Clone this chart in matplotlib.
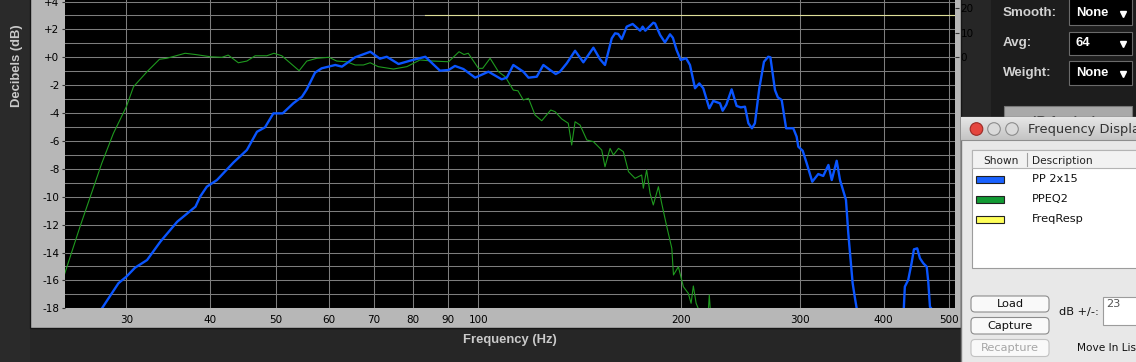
import matplotlib
matplotlib.use('Agg')
import numpy as np
import matplotlib.pyplot as plt
import matplotlib.ticker as mticker
from matplotlib.patches import Rectangle, FancyBboxPatch, Circle
from matplotlib.colors import LinearSegmentedColormap

# ---------------- data ----------------
pp_freq = [27.6, 29.2, 30.0, 30.9, 32.2, 33.7, 35.7, 38.0, 38.6, 39.5, 40.9, 43.3, 45.3,
           46.9, 48.2, 49.6, 51.2, 53.1, 54.7, 55.6, 57.2, 58.5, 61.3, 62.7, 65.6, 69.1,
           71.4, 73.1, 76.1, 79.2, 83.4, 87.7, 90.3, 92.3, 95.0, 98.9, 103.5, 108.3, 110.2,
           112.7, 116.6, 118.7, 122.1, 124.9, 127.8, 130.3, 132.2, 135.3, 139.2, 143.2,
           148.2, 151.6, 154.2, 157.8, 159.6, 161.3, 163.3, 166.1, 169.5, 173.9, 175.4,
           177.0, 181.9, 183.0, 186.2, 189.3, 192.6, 194.5, 197.0, 199.8, 203.5, 206.2,
           209.8, 212.9, 215.8, 220.3, 223.3, 228.5, 230.6, 233.5, 237.8, 241.9, 245.4,
           248.9, 251.8, 254.9, 257.5, 261.4, 265.6, 269.5, 271.5, 275.8, 278.5, 282.2,
           286.5, 293.6, 297.0, 298.7, 303.2, 307.4, 313.3, 319.8, 325.3, 331.1, 334.9,
           340.6, 344.5, 351.6, 354.4, 359.7, 362.6, 364.7, 370.0, 420.0, 428.5, 430.0,
           435.0, 440.0, 443.6, 448.6, 452.8, 458.0, 463.4, 465.9, 468.6, 470.6, 475.0]
pp_db = [-18.0, -16.2, -15.73, -15.09, -14.54, -13.22, -11.79, -10.71, -10.0, -9.28, -8.8,
         -7.53, -6.65, -5.34, -5.02, -4.02, -4.02, -3.3, -2.83, -2.3, -1.1, -0.79, -0.55,
         -0.67, 0.0, 0.4, -0.1, 0.04, -0.48, -0.24, 0.04, -0.96, -0.91, -0.62, -0.84, -1.46,
         -1.03, -1.58, -1.46, -0.55, -1.03, -1.46, -1.39, -0.55, -0.91, -1.2, -1.03, -0.43,
         0.47, -0.36, 0.69, -0.14, -0.55, 1.36, 1.72, 1.68, 1.31, 2.2, 2.39, 1.91, 2.2,
         1.91, 2.48, 2.43, 1.6, 1.07, 1.65, 1.4, 0.52, -0.19, -0.07, -0.55, -2.22, -1.87,
         -2.22, -3.66, -3.13, -3.3, -3.83, -3.4, -2.3, -3.49, -3.59, -3.54, -4.73, -5.09,
         -4.73, -2.22, -0.32, 0.04, 0.0, -2.35, -2.87, -3.06, -5.09, -5.09, -5.69, -6.41,
         -6.7, -7.6, -8.92, -8.37, -8.51, -7.72, -8.8, -7.42, -8.8, -10.23, -12.62, -16.2,
         -17.28, -18.0, -22.0, -22.0, -18.0, -16.45, -15.97, -14.77, -13.77, -13.7, -14.41,
         -14.77, -15.02, -16.1, -17.9, -18.0, -22.0]

eq_freq = [24.0, 25.6, 27.58, 28.7, 30.0, 30.74, 32.2, 33.6, 34.45, 36.68, 38.0, 40.0, 41.6,
           42.5, 44.0, 45.3, 46.6, 48.5, 49.7, 51.05, 54.17, 55.6, 57.55, 60.0, 61.6, 63.76,
           65.6, 67.5, 69.06, 71.0, 74.8, 78.3, 81.9, 85.7, 90.3, 93.6, 95.2, 96.6, 100.0,
           101.5, 104.1, 107.1, 109.6, 112.7, 114.5, 116.6, 118.7, 121.4, 124.2, 128.1,
           130.0, 133.0, 136.0, 137.6, 139.2, 141.6, 144.9, 148.2, 152.5, 154.2, 156.9,
           158.7, 161.5, 164.2, 167.1, 170.9, 174.8, 175.8, 177.8, 179.9, 181.9, 185.1,
           187.2, 190.5, 193.8, 194.9, 198.2, 201.6, 205.0, 207.0, 208.6, 210.6, 212.1,
           216.0, 219.5, 220.3, 221.2, 225.0]
eq_db = [-16.3, -12.15, -7.6, -5.45, -3.54, -2.11, -1.03, -0.14, -0.07, 0.29, 0.2, 0.04, 0.0,
         0.16, -0.39, -0.27, 0.11, 0.11, 0.29, 0.11, -0.96, -0.27, -0.07, 0.0, -0.27, -0.32,
         -0.55, -0.55, -0.39, -0.67, -0.84, -0.67, -0.19, -0.27, -0.32, 0.4, 0.2, 0.29,
         -0.79, -0.79, -0.07, -1.03, -1.39, -2.35, -2.4, -3.06, -2.94, -4.14, -4.55, -3.78,
         -3.9, -4.42, -4.73, -6.29, -4.62, -4.86, -5.93, -6.05, -6.65, -7.85, -6.53, -7.01,
         -6.53, -6.77, -8.2, -8.68, -8.44, -9.39, -8.08, -9.75, -10.59, -9.28, -10.47,
         -12.15, -13.7, -15.61, -15.02, -16.45, -16.92, -17.64, -16.4, -17.64, -18.0,
         -19.5, -18.3, -17.05, -18.3, -20.0]

fr_freq = [83.3, 530.0]
fr_db = [3.03, 3.03]

x_ticks = [30, 40, 50, 60, 70, 80, 90, 100, 200, 300, 400, 500]
x_labels = ['30', '40', '50', '60', '70', '80', '90', '100', '200', '300', '400', '500']
y_ticks = [4, 2, 0, -2, -4, -6, -8, -10, -12, -14, -16, -18]
y_labels = ['+4', '+2', '+0', '-2', '-4', '-6', '-8', '-10', '-12', '-14', '-16', '-18']
r_ticks = [0, 10, 20]
r_labels = ['0', '10', '20']

legend_names = ['PP 2x15', 'PPEQ2', 'FreqResp']
legend_colors = ['#1a62ff', '#129a33', '#ffff5a']

# ---------------- figure ----------------
W, H = 1136, 362
fig = plt.figure(figsize=(W / 100, H / 100), dpi=100, facecolor='#262626')

bg = fig.add_axes([0, 0, 1, 1], zorder=0)
bg.set_xlim(0, W); bg.set_ylim(H, 0); bg.axis('off')
bg.add_patch(Rectangle((0, 0), 30, H, facecolor='#2a2a2a', edgecolor='none'))
bg.add_patch(Rectangle((30, -2), 961 - 30, 330, facecolor='#b7b7b7', edgecolor='#161616', lw=1))
bg.add_patch(Rectangle((991, -2), W - 991, H + 4, facecolor='#1d1d1d', edgecolor='none'))

# main plot
L, R, T, B = 65, 955, 0, 308.3
ax = fig.add_axes([L / W, (H - B) / H, (R - L) / W, (B - T) / H], zorder=1)
ax.set_facecolor('black')
ax.set_xscale('log')
ax.set_xlim(24.32, 510.5)
ax.set_ylim(-18, 4.11)
for s in ax.spines.values():
    s.set_visible(False)

ax.xaxis.set_major_locator(mticker.FixedLocator(x_ticks))
ax.xaxis.set_major_formatter(mticker.FixedFormatter(x_labels))
ax.xaxis.set_minor_locator(mticker.NullLocator())
ax.set_yticks(y_ticks)
ax.set_yticklabels(y_labels)
ax.set_yticks(np.arange(-17, 4, 2), minor=True)
ax.tick_params(axis='x', length=0, pad=5, labelsize=7.5, labelcolor='black')
ax.tick_params(axis='y', which='major', length=2, width=0.8, color='#333333', pad=2,
               labelsize=7.5, labelcolor='black')
ax.tick_params(axis='y', which='minor', length=0)
ax.grid(True, which='major', axis='both', color='#7d7d7d', lw=0.75)
ax.grid(True, which='minor', axis='y', color='#7d7d7d', lw=0.75)
ax.set_axisbelow(True)

ax.plot(fr_freq, fr_db, color='#dede98', lw=0.8)
ax.plot(eq_freq, eq_db, color='#1f9a1f', lw=0.8)
ax.plot(pp_freq, pp_db, color='#0a55ff', lw=1.7, solid_joinstyle='round')

ax2 = ax.twinx()
ax2.set_ylim(-102.4, 23.4)
ax2.set_yticks(r_ticks)
ax2.set_yticklabels(r_labels)
ax2.tick_params(axis='y', length=3, width=0.8, color='#333333', pad=1,
                labelsize=7.5, labelcolor='black')
for s in ax2.spines.values():
    s.set_visible(False)

# ---------------- overlay (labels & panels) ----------------
fg = fig.add_axes([0, 0, 1, 1], zorder=5)
fg.set_facecolor('none')
fg.axis('off')

lab = dict(family='Liberation Sans', fontweight='bold', color='#cacaca', fontsize=9.4)
fg.text(17, 66, 'Decibels (dB)', rotation=90, ha='center', va='center', **lab)
fg.text(510, 340.5, 'Frequency (Hz)', ha='center', va='center', **lab)

# right control panel
for yc, name, val, (y0, y1) in [(13.3, 'Smooth:', 'None', (-2, 25)),
                                (43.3, 'Avg:', '64', (32, 55)),
                                (72.7, 'Weight:', 'None', (61, 85))]:
    fg.text(1003, yc, name, ha='left', va='center', family='Liberation Sans',
            fontweight='bold', fontsize=9.6, color='#d2d2d2')
    fg.add_patch(Rectangle((1069, y0), 63, y1 - y0, facecolor='black', edgecolor='#6a6a6a', lw=0.8))
    fg.text(1076, yc, val, ha='left', va='center', family='Liberation Sans',
            fontweight='bold', fontsize=9.4, color='white')
    fg.plot([1123], [yc + 1], marker='v', ms=4.5, color='white', mec='white')

fg.add_patch(Rectangle((1004, 106), 128, 30, facecolor='#a9a9a9', edgecolor='#777777', lw=0.8))
ir = fg.text(1068, 122, 'IR Analysis', ha='center', va='center', family='Liberation Sans',
             fontweight='bold', fontsize=9.4, color='#444444')
ir.set_clip_path(Rectangle((1004, 100), 128, 17, transform=fg.transData))

# dialog window
fg.add_patch(Rectangle((960.5, 117), 200, 260, facecolor='#e8e8e8', edgecolor='#7a7a7a', lw=1, zorder=3))
tb = LinearSegmentedColormap.from_list('tb', ['#e6e6e6', '#c4c4c4'])
fg.imshow(np.linspace(0, 1, 24)[:, None], extent=[961, 1137, 140, 117.5], origin='upper',
          cmap=tb, aspect='auto', zorder=3.5)
fg.plot([961, 1137], [140, 140], color='#8e8e8e', lw=0.8, zorder=3.6)
fg.add_patch(Circle((976.5, 129), 6.3, facecolor='#e5463f', edgecolor='#9a2a25', lw=0.8, zorder=4))
for cx in (994, 1012):
    fg.add_patch(Circle((cx, 129), 6.3, facecolor='#dadada', edgecolor='#8c8c8c', lw=0.8, zorder=4))
fg.text(1028, 129, 'Frequency Display', ha='left', va='center', family='DejaVu Sans',
        fontsize=9.4, color='#333333', zorder=4)

# table
fg.add_patch(Rectangle((972, 150), 200, 118, facecolor='white', edgecolor='#9c9c9c', lw=0.8, zorder=4))
fg.add_patch(Rectangle((972, 150), 200, 18, facecolor='#f2f2f2', edgecolor='#b4b4b4', lw=0.8, zorder=4.1))
fg.plot([1027, 1027], [153, 166], color='#a0a0a0', lw=0.8, zorder=4.2)
fg.text(983, 160.5, 'Shown', ha='left', va='center', family='DejaVu Sans', fontsize=7.6,
        color='#222222', zorder=4.3)
fg.text(1032, 160.5, 'Description', ha='left', va='center', family='DejaVu Sans', fontsize=7.6,
        color='#222222', zorder=4.3)
for i, (nm, col) in enumerate(zip(legend_names, legend_colors)):
    yc = 179.3 + 20 * i
    fg.add_patch(Rectangle((976, yc - 3.5), 28, 7, facecolor=col, edgecolor='#222222', lw=0.8, zorder=4.3))
    fg.text(1032, yc, nm, ha='left', va='center', family='DejaVu Sans', fontsize=8.2,
            color='#111111', zorder=4.3)

# buttons
for (y0, h, txt, tc, ec) in [(296, 16, 'Load', '#111111', '#8c8c8c'),
                              (317.5, 16.5, 'Capture', '#111111', '#8c8c8c'),
                              (339.5, 17, 'Recapture', '#a6a6a6', '#c2c2c2')]:
    fg.add_patch(FancyBboxPatch((971, y0), 78, h, boxstyle='round,pad=0,rounding_size=4',
                                facecolor='#f9f9f9', edgecolor=ec, lw=0.8, zorder=4))
    fg.text(1010, y0 + h / 2, txt, ha='center', va='center', family='DejaVu Sans',
            fontsize=8.2, color=tc, zorder=4.3)

fg.text(1059, 312, 'dB +/-:', ha='left', va='center', family='DejaVu Sans', fontsize=8.2,
        color='#111111', zorder=4.3)
fg.add_patch(Rectangle((1103, 297), 40, 28, facecolor='white', edgecolor='#9c9c9c', lw=0.8, zorder=4))
fg.text(1106, 304, '23', ha='left', va='center', family='DejaVu Sans', fontsize=8.2,
        color='#555555', zorder=4.3)
fg.text(1077, 348, 'Move In List', ha='left', va='center', family='DejaVu Sans', fontsize=7.6,
        color='#111111', zorder=4.3)

fg.set_xlim(0, W); fg.set_ylim(H, 0)

fig.savefig('out.png', dpi=100, facecolor=fig.get_facecolor())
